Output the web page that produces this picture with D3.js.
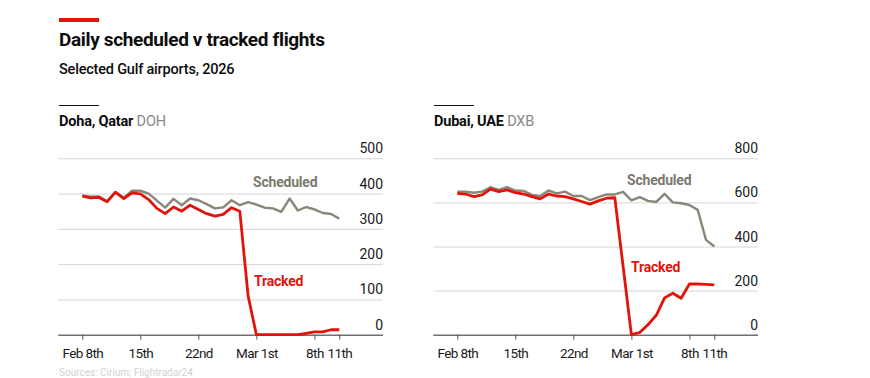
<!DOCTYPE html>
<html>
<head>
<meta charset="utf-8">
<script src="https://cdn.jsdelivr.net/npm/d3@7"></script>
<style>
  html, body { margin: 0; padding: 0; background: #fff; }
  svg { display: block; }
  text { font-family: Roboto, "Noto Sans", sans-serif; }
</style>
</head>
<body>
<svg id="chart" width="870" height="378"></svg>
<script>
// ---------------- DATA ----------------
const dates = ["2026-02-08","2026-02-09","2026-02-10","2026-02-11","2026-02-12","2026-02-13","2026-02-14",
  "2026-02-15","2026-02-16","2026-02-17","2026-02-18","2026-02-19","2026-02-20","2026-02-21",
  "2026-02-22","2026-02-23","2026-02-24","2026-02-25","2026-02-26","2026-02-27","2026-02-28",
  "2026-03-01","2026-03-02","2026-03-03","2026-03-04","2026-03-05","2026-03-06","2026-03-07",
  "2026-03-08","2026-03-09","2026-03-10","2026-03-11"];

const dohaScheduled = [395,391,392,378,404,388,408,408,400,380,360,385,367,386,381,370,358,361,381,367,376,369,360,358,348,386,352,362,355,345,342,329];
const dohaTracked   = [393,388,389,377,404,386,402,399,383,358,343,362,350,367,355,343,336,341,360,350,110,0,0,0,0,0,0,4,8,8,14,14];

const dubaiScheduled = [649,649,644,649,669,657,669,654,652,634,629,654,641,649,629,629,610,624,636,636,648,609,624,607,602,639,600,596,588,566,430,400];
const dubaiTracked   = [641,638,626,634,660,649,657,644,638,626,616,638,629,626,616,604,592,607,619,621,310,0,10,45,88,167,188,165,230,230,228,226];

const xTickDates  = ["2026-02-08","2026-02-15","2026-02-22","2026-03-01","2026-03-08","2026-03-11"];
const xTickLabels = ["Feb 8th","15th","22nd","Mar 1st","8th","11th"];
const dohaYTicks  = [0,100,200,300,400,500];
const dubaiYTicks = [0,200,400,600,800];

const title = "Daily scheduled v tracked flights";
const subtitle = "Selected Gulf airports, 2026";
const source = "Sources: Cirium; Flightradar24";

// ---------------- DRAW ----------------
const RED = "#e3120b";
const GREY_LINE = "#8a8679";
const GREY_LABEL = "#7b786c";
const parse = d3.utcParse("%Y-%m-%d");
const svg = d3.select("#chart");

svg.append("rect").attr("x", 59).attr("y", 18).attr("width", 40).attr("height", 4).attr("fill", RED);
svg.append("text").attr("x", 59).attr("y", 46).text(title)
  .attr("font-size", 19).attr("font-weight", 700).attr("fill", "#0d0d0d").attr("letter-spacing", -0.35);
svg.append("text").attr("x", 59).attr("y", 74).text(subtitle)
  .attr("font-size", 14.5).attr("font-weight", 500).attr("fill", "#0d0d0d").attr("letter-spacing", -0.2);
svg.append("text").attr("x", 59).attr("y", 376).text(source)
  .attr("font-size", 10).attr("fill", "#d2d2d2");

function panel(cfg) {
  const g = svg.append("g");
  const x = d3.scaleUtc().domain([parse(dates[0]), parse(dates[dates.length - 1])]).range([cfg.x0, cfg.x1]);
  const y = d3.scaleLinear().domain([0, cfg.yMax]).range([334.7, 158.3]);

  // panel header
  g.append("line").attr("x1", cfg.gx0 + 0.7).attr("x2", cfg.gx0 + 40.7).attr("y1", 105.5).attr("y2", 105.5)
    .attr("stroke", "#111").attr("stroke-width", 1);
  const h = g.append("text").attr("x", cfg.gx0 + 0.7).attr("y", 126).attr("font-size", 14.5).attr("letter-spacing", -0.2);
  h.append("tspan").text(cfg.name).attr("font-weight", 700).attr("fill", "#0d0d0d");
  h.append("tspan").text(" " + cfg.code).attr("font-weight", 400).attr("fill", "#888");

  // y grid + labels
  const yAxis = d3.axisLeft(y).tickValues(cfg.yTicks).tickSize(cfg.gx1 - cfg.gx0).tickFormat(d3.format("d"));
  const ya = g.append("g").attr("transform", `translate(${cfg.gx1},0)`).call(yAxis);
  ya.select(".domain").remove();
  ya.selectAll(".tick line").attr("stroke", "#d6d6d6").attr("stroke-width", 1);
  ya.selectAll(".tick text").attr("x", 0).attr("dy", -5.5).attr("text-anchor", "end")
    .attr("font-size", 14).attr("fill", "#1a1a1a").attr("font-family", "Roboto, sans-serif");
  ya.selectAll(".tick").filter(d => d === 0).select("line").attr("stroke", "#707070").attr("stroke-width", 1.4);

  // x axis
  const xAxis = d3.axisBottom(x).tickValues(xTickDates.map(parse)).tickSize(5)
    .tickFormat((d, i) => xTickLabels[i]);
  const xa = g.append("g").attr("transform", `translate(0,${y(0)})`).call(xAxis);
  xa.select(".domain").remove();
  xa.selectAll(".tick line").attr("stroke", "#555").attr("stroke-width", 1);
  xa.selectAll(".tick text").attr("dy", 0).attr("y", 23.5).attr("font-size", 13.5).attr("fill", "#1a1a1a")
    .attr("font-family", "Roboto, sans-serif").attr("letter-spacing", -0.6);

  const line = d3.line().x((d, i) => x(parse(dates[i]))).y(d => y(d)).curve(d3.curveLinear);
  g.append("path").datum(cfg.scheduled).attr("d", line).attr("fill", "none")
    .attr("stroke", GREY_LINE).attr("stroke-width", 2.4).attr("stroke-linejoin", "round");
  g.append("path").datum(cfg.tracked).attr("d", line).attr("fill", "none")
    .attr("stroke", RED).attr("stroke-width", 2.8).attr("stroke-linejoin", "round");

  g.append("text").attr("x", cfg.schedLabel[0]).attr("y", cfg.schedLabel[1]).text("Scheduled")
    .attr("font-size", 14).attr("font-weight", 700).attr("fill", GREY_LABEL).attr("letter-spacing", -0.2);
  g.append("text").attr("x", cfg.trackLabel[0]).attr("y", cfg.trackLabel[1]).text("Tracked")
    .attr("font-size", 14).attr("font-weight", 700).attr("fill", RED).attr("letter-spacing", -0.2);
}

panel({
  name: "Doha, Qatar", code: "DOH", gx0: 58.3, gx1: 383, x0: 82.3, x1: 339.3, yMax: 500, yTicks: dohaYTicks,
  scheduled: dohaScheduled, tracked: dohaTracked, schedLabel: [253, 187], trackLabel: [254, 286]
});
panel({
  name: "Dubai, UAE", code: "DXB", gx0: 433.3, gx1: 758, x0: 457.3, x1: 714.3, yMax: 800, yTicks: dubaiYTicks,
  scheduled: dubaiScheduled, tracked: dubaiTracked, schedLabel: [627, 184.5], trackLabel: [631, 272]
});
</script>
</body>
</html>
